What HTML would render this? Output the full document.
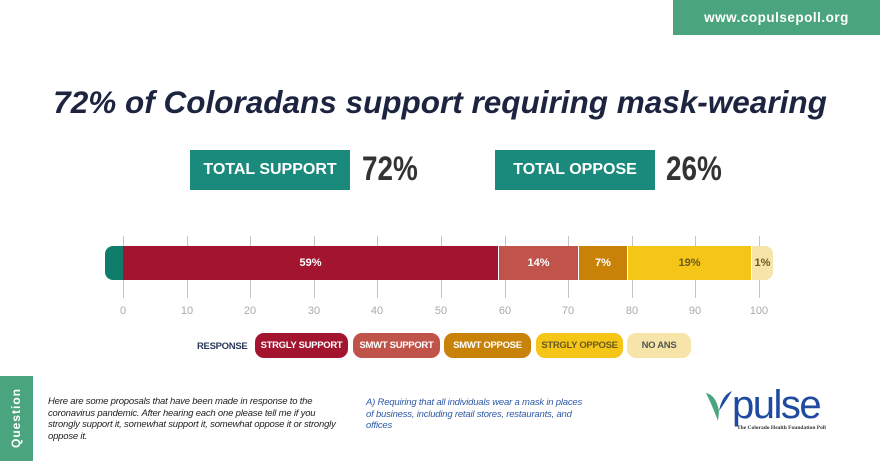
<!DOCTYPE html>
<html><head><meta charset="utf-8"><style>
body{margin:0;width:880px;height:461px;background:#fff;position:relative;overflow:hidden;font-family:"Liberation Sans",sans-serif}
.a{position:absolute}
.seg{position:absolute;top:246px;height:34px;color:#fff;font:bold 11px "Liberation Sans",sans-serif;display:flex;align-items:center;justify-content:center}
.pill{position:absolute;top:333px;height:25px;border-radius:9px;font:bold 9.5px "Liberation Sans",sans-serif;display:flex;align-items:center;justify-content:center;color:#fff;letter-spacing:-.3px}
.tick{position:absolute;top:236px;width:1px;height:62px;background:#c4c4c4}
.tl{position:absolute;top:305px;font-size:11px;color:#aaa;width:30px;text-align:center;margin-left:-15px}
.num{position:absolute;top:150px;font:bold 34px 'Liberation Sans',sans-serif;color:#333;transform:scaleX(.82);transform-origin:left}
</style></head><body>
<div class="a" style="left:673px;top:0;width:207px;height:35px;background:#4aa57e;color:#fff;font:bold 13.5px 'Liberation Sans',sans-serif;display:flex;align-items:center;justify-content:center;letter-spacing:.5px">www.copulsepoll.org</div>
<div class="a" style="left:0;top:84px;width:880px;text-align:center;font:italic bold 31.5px 'Liberation Sans',sans-serif;color:#1c2440">72% of Coloradans support requiring mask-wearing</div>
<div class="a" style="left:190px;top:150px;width:160px;height:40px;background:#1a8a7c;color:#fff;font:bold 16px 'Liberation Sans',sans-serif;display:flex;align-items:center;justify-content:center">TOTAL SUPPORT</div>
<div class="num" style="left:362px">72%</div>
<div class="a" style="left:495px;top:150px;width:160px;height:40px;background:#1a8a7c;color:#fff;font:bold 16px 'Liberation Sans',sans-serif;display:flex;align-items:center;justify-content:center">TOTAL OPPOSE</div>
<div class="num" style="left:666px">26%</div>

<div class="tick" style="left:123px"></div><div class="tick" style="left:187px"></div><div class="tick" style="left:250px"></div><div class="tick" style="left:314px"></div><div class="tick" style="left:377px"></div><div class="tick" style="left:441px"></div><div class="tick" style="left:505px"></div><div class="tick" style="left:568px"></div><div class="tick" style="left:632px"></div><div class="tick" style="left:695px"></div><div class="tick" style="left:759px"></div>
<div class="a" style="left:105px;top:246px;width:24px;height:34px;background:#0f7d6c;border-radius:8px 0 0 8px"></div>
<div class="seg" style="left:123px;width:375px;background:#a3142f">59%</div>
<div class="seg" style="left:499px;width:79px;background:#c0534a">14%</div>
<div class="seg" style="left:579px;width:48px;background:#c98208">7%</div>
<div class="seg" style="left:628px;width:123px;background:#f5c518;color:#6b5a20">19%</div>
<div class="seg" style="left:752px;width:21px;background:#f6e4a8;color:#6b5a20;border-radius:0 8px 8px 0">1%</div>
<div class="tl" style="left:123px">0</div><div class="tl" style="left:187px">10</div><div class="tl" style="left:250px">20</div><div class="tl" style="left:314px">30</div><div class="tl" style="left:377px">40</div><div class="tl" style="left:441px">50</div><div class="tl" style="left:505px">60</div><div class="tl" style="left:568px">70</div><div class="tl" style="left:632px">80</div><div class="tl" style="left:695px">90</div><div class="tl" style="left:759px">100</div>

<div class="a" style="left:197px;top:341px;font:bold 9.5px 'Liberation Sans',sans-serif;color:#2b3a5a;letter-spacing:-.3px">RESPONSE</div>
<div class="pill" style="left:255px;width:93px;background:#a3142f">STRGLY SUPPORT</div>
<div class="pill" style="left:353px;width:87px;background:#c0534a">SMWT SUPPORT</div>
<div class="pill" style="left:444px;width:87px;background:#c98208">SMWT OPPOSE</div>
<div class="pill" style="left:536px;width:87px;background:#f5c518;color:#6b5a20">STRGLY OPPOSE</div>
<div class="pill" style="left:627px;width:64px;background:#f6e4a8;color:#555">NO ANS</div>

<div class="a" style="left:0;top:376px;width:33px;height:85px;background:#4aa57e"></div>
<div class="a" style="left:16px;top:418px;transform:translate(-50%,-50%) rotate(-90deg);color:#fff;font:bold 12px 'Liberation Sans',sans-serif;letter-spacing:1px">Question</div>
<div class="a" style="left:48px;top:396px;width:290px;font:italic 9.5px/11.5px 'Liberation Sans',sans-serif;color:#222;letter-spacing:-.2px">Here are some proposals that have been made in response to the coronavirus pandemic. After hearing each one please tell me if you strongly support it, somewhat support it, somewhat oppose it or strongly oppose it.</div>
<div class="a" style="left:366px;top:397px;width:225px;font:italic 9.5px/11.5px 'Liberation Sans',sans-serif;color:#2e5aa8;letter-spacing:-.2px">A) Requiring that all individuals wear a mask in places of business, including retail stores, restaurants, and offices</div>
<svg class="a" style="left:704px;top:389px" width="30" height="34"><path d="M2 4 Q12 6 15 22 L14 32 Q8 16 2 4Z" fill="#4aa57e"/><path d="M28 2 Q18 6 15 22 Q22 12 28 2Z" fill="#1f4aa0"/></svg>
<div class="a" style="left:732px;top:382px;font:40px/46px 'Liberation Sans',sans-serif;color:#1f4aa0;letter-spacing:-1.5px">pulse</div>
<div class="a" style="left:737px;top:425px;font:bold 5.5px 'Liberation Serif',serif;color:#333">The Colorado Health Foundation Poll</div>
</body></html>
